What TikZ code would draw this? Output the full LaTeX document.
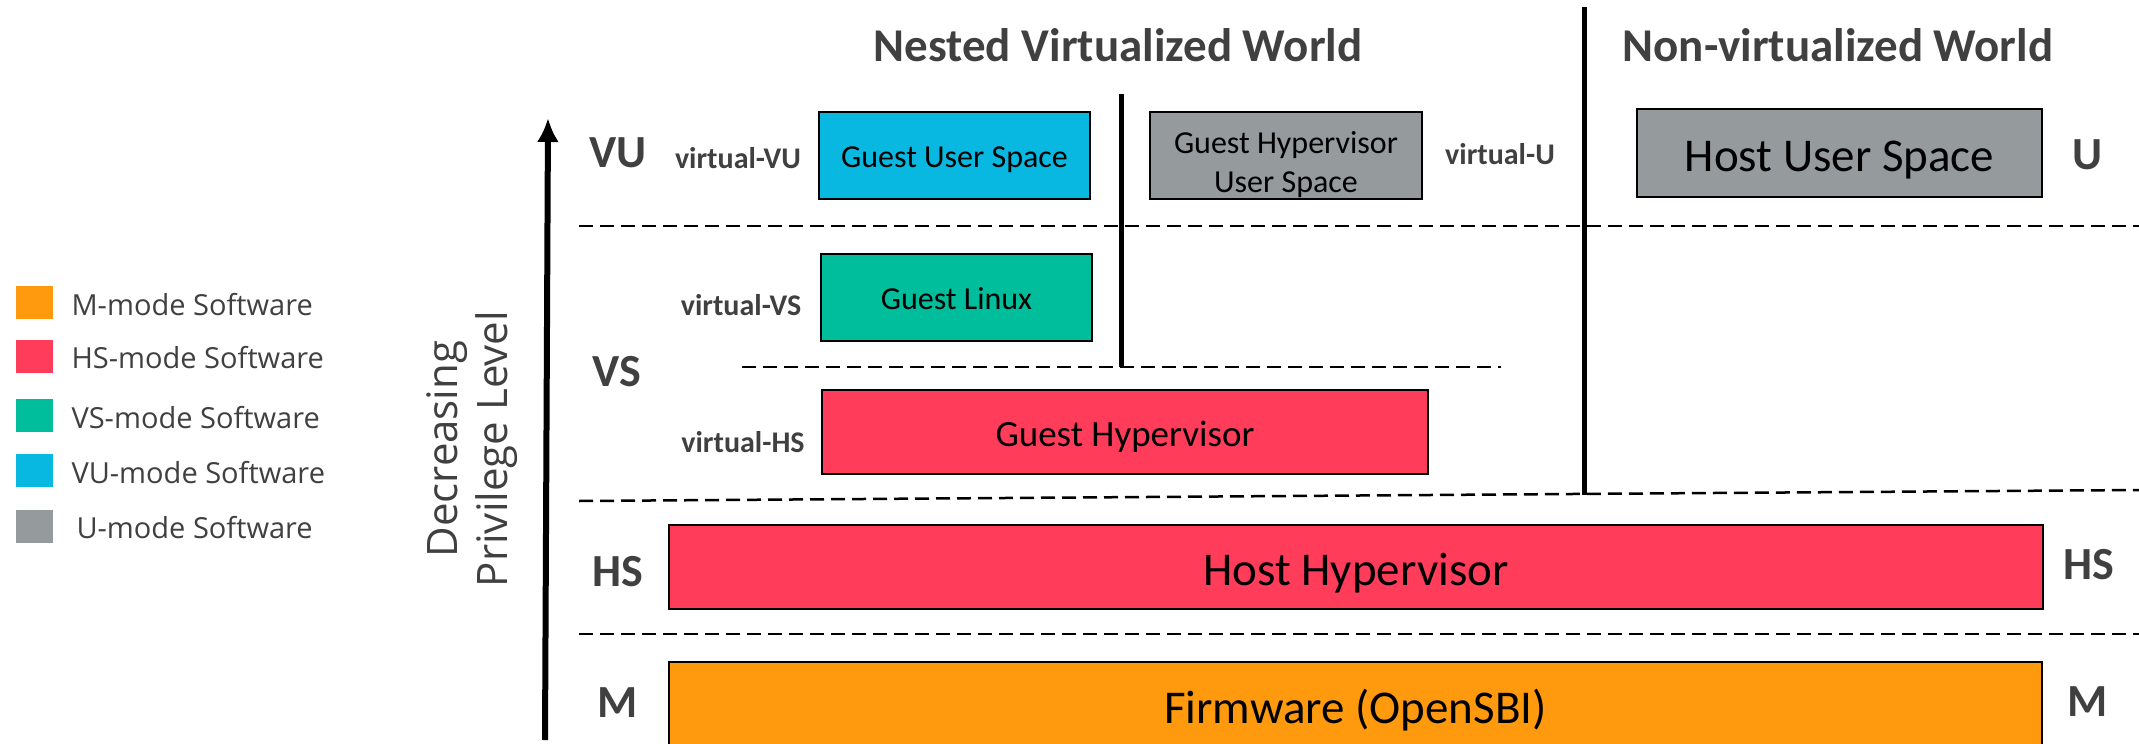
\documentclass[tikz,border=0pt]{standalone}
\usepackage{fontspec}
\setmainfont{Carlito}
\newfontfamily\legfont{Open Sans}
\usetikzlibrary{arrows.meta}
\definecolor{mcol}{HTML}{FF9A0E}
\definecolor{hscol}{HTML}{FF3C5A}
\definecolor{vscol}{HTML}{00BE9B}
\definecolor{vucol}{HTML}{08B8E0}
\definecolor{ucol}{HTML}{959A9D}
\definecolor{lblgray}{HTML}{404040}

\begin{document}
\begin{tikzpicture}[x=1pt,y=-1pt,
  boxbase/.style={draw=black,line width=2pt,inner sep=0pt,font=\fontsize{32}{39}\selectfont},
  box/.style={boxbase,text height=24.6pt,text depth=0pt},
  bigbox/.style={boxbase,text height=36pt,text depth=0pt,font=\fontsize{47}{56}\selectfont},
  lvl/.style={text=lblgray,font=\bfseries\fontsize{46}{55}\selectfont},
  vlbl/.style={text=lblgray,font=\bfseries\fontsize{30}{36}\selectfont},
  world/.style={text=lblgray,font=\bfseries\fontsize{47}{56}\selectfont},
  sepline/.style={dash pattern=on 14pt off 7pt,line width=2.5pt},
  wall/.style={line width=5pt},
  legsq/.style={inner sep=0pt,minimum width=37,minimum height=33},
  legtxt/.style={anchor=west,text=lblgray,font=\legfont\fontsize{29}{35}\selectfont}]
\useasboundingbox (0,0) rectangle (2139,744);

% legend
\node[legsq,fill=mcol] (lm) at (34.5,302.5) {};
\node[legsq,fill=hscol] (lhs) at (34.5,356.5) {};
\node[legsq,fill=vscol] (lvs) at (34.5,415.5) {};
\node[legsq,fill=vucol] (lvu) at (34.5,470.5) {};
\node[legsq,fill=ucol] (lu) at (34.5,526.5) {};
\node[legtxt] (lmt) at (68,305) {M-mode Software};
\node[legtxt] (lhst) at (68,358) {HS-mode Software};
\node[legtxt] (lvst) at (68,418) {VS-mode Software};
\node[legtxt] (lvut) at (68,473) {VU-mode Software};
\node[legtxt] (lut) at (73,528) {U-mode Software};

% privilege axis
\node[rotate=90,align=center,text=lblgray,font=\legfont\fontsize{42}{50}\selectfont] (declbl) at (472,449) {Decreasing\\Privilege Level};
\coordinate (arrbot) at (545,740); \coordinate (arrtop) at (548,118);
\draw[line width=6pt,-{Latex[length=24pt,width=22pt]}] (arrbot) -- (arrtop);

% world titles
\node[world] (nested) at (1118,45) {Nested Virtualized World};
\node[world] (nonvirt) at (1838,45) {Non-virtualized World};

% separators
\coordinate (d1a) at (579,226); \coordinate (d1b) at (2139,226);
\coordinate (d2a) at (742,367); \coordinate (d2b) at (1501,367);
\coordinate (d3a) at (579,501); \coordinate (d3b) at (2139,490);
\coordinate (d4a) at (579,634); \coordinate (d4b) at (2139,634);
\draw[sepline] (d1a) -- (d1b);
\draw[sepline] (d2a) -- (d2b);
\draw[sepline] (d3a) -- (d3b);
\draw[sepline] (d4a) -- (d4b);
\coordinate (v1a) at (1121,94); \coordinate (v1b) at (1121,367);
\coordinate (v2a) at (1584,7); \coordinate (v2b) at (1584,495);
\draw[wall] (v1a) -- (v1b);
\draw[wall] (v2a) -- (v2b);

% level names
\node[lvl] (vu) at (618,153) {VU};
\node[lvl] (vs) at (617,372) {VS};
\node[lvl] (hsl) at (618,572) {HS};
\node[lvl] (ml) at (618,703) {M};
\node[lvl] (u) at (2087,155) {U};
\node[lvl] (hsr) at (2089,565) {HS};
\node[lvl] (mr) at (2088,702) {M};
\node[vlbl] (vvu) at (738,158) {virtual-VU};
\node[vlbl] (vvs) at (741,305) {virtual-VS};
\node[vlbl] (vhs) at (743,442) {virtual-HS};
\node[vlbl] (vu2) at (1500,154) {virtual-U};

% software boxes
\node[box,fill=vucol,minimum width=271,minimum height=87] (guser) at (954.5,155.5) {Guest User Space};
\node[boxbase,align=center,fill=ucol,minimum width=272,minimum height=87] (ghuser) at (1286,155.5) {\rule{0pt}{1.26em}Guest Hypervisor\\User Space};
\node[bigbox,fill=ucol,minimum width=405,minimum height=88] (huser) at (1839.5,153) {Host User Space};
\node[box,fill=vscol,minimum width=271,minimum height=87] (glinux) at (956.5,297.5) {Guest Linux};
\node[box,fill=hscol,minimum width=606,minimum height=84,text height=28.5pt,font=\fontsize{37}{44}\selectfont] (ghyp) at (1125,432) {Guest Hypervisor};
\node[bigbox,fill=hscol,minimum width=1374,minimum height=84] (hhyp) at (1356,567) {Host Hypervisor};
\node[bigbox,fill=mcol,minimum width=1373,minimum height=86] (fw) at (1355.5,705) {Firmware (OpenSBI)};
\end{tikzpicture}
\end{document}
